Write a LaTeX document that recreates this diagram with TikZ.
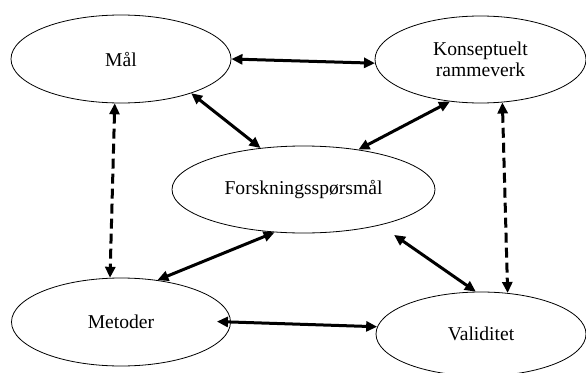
\documentclass[tikz,border=0pt]{standalone}
\usepackage{fontspec}
\setmainfont{Liberation Serif}
\usetikzlibrary{shapes.geometric,arrows.meta}
\begin{document}
\begin{tikzpicture}[x=1pt,y=-1pt,
  oval/.style={ellipse,draw=black,line width=0.8pt,inner sep=0pt,align=center,
    font=\fontsize{19.6}{21}\selectfont},
  link/.style={line width=3pt,{Triangle[length=11pt,width=10pt]}-{Triangle[length=11pt,width=10pt]}},
  dlink/.style={link,dash pattern=on 10pt off 5pt}]
\useasboundingbox (0,0) rectangle (586,372);
\node[oval,minimum width=220pt,minimum height=88pt] (mal) at (121,59) {Mål};
\node[oval,minimum width=211pt,minimum height=87pt] (kons) at (480.5,59.5) {Konseptuelt\\rammeverk};
\node[oval,minimum width=263pt,minimum height=87pt] (forsk) at (303.5,189.5) {Forskningsspørsmål};
\node[oval,minimum width=219pt,minimum height=88pt] (met) at (121,322) {Metoder};
\node[oval,minimum width=210pt,minimum height=84pt] (val) at (481,334) {Validitet};
\draw[link] (mal.east) -- (kons.182);
\draw[link] (mal.-26) -- (forsk.136);
\draw[link] (kons.234) -- (forsk.36);
\draw[link] (met.49) -- (forsk.236);
\draw[link,shorten <=17pt] (forsk.-25) -- (val.97);
\draw[link,shorten <=-14pt] (met.east) -- (val.176);
\draw[dlink] (mal.262) -- (met.104);
\draw[dlink] (kons.297) -- (val.57);
\end{tikzpicture}
\end{document}
